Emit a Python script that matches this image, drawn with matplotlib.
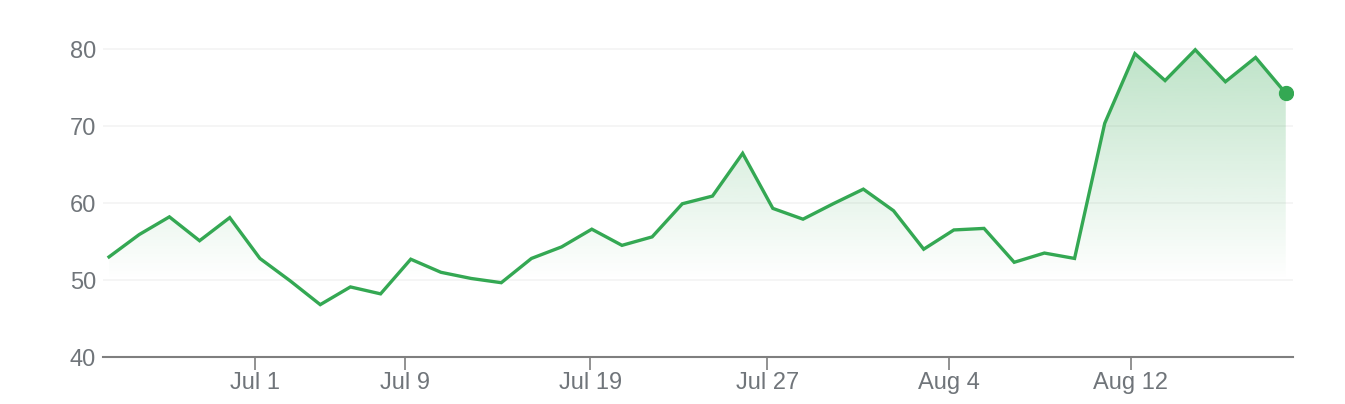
import numpy as np
import matplotlib
matplotlib.use("Agg")
import matplotlib.pyplot as plt
from matplotlib.patches import Polygon

values = [53.0, 55.9, 58.2, 55.1, 58.1, 52.8, 49.9, 46.8, 49.1, 48.2,
          52.7, 51.0, 50.2, 49.65, 52.8, 54.3, 56.6, 54.5, 55.6, 59.9,
          60.9, 66.45, 59.3, 57.9, 59.9, 61.8, 59.0, 54.0, 56.5, 56.7,
          52.3, 53.5, 52.8, 70.35, 79.4, 75.9, 79.9, 75.75, 78.9, 74.25]
tick_labels = ["Jul 1", "Jul 9", "Jul 19", "Jul 27", "Aug 4", "Aug 12"]
tick_pos = [4.84, 9.82, 15.95, 21.82, 27.83, 33.86]
y_ticks = [40, 50, 60, 70, 80]

plt.rcParams['font.family'] = ['Liberation Sans', 'DejaVu Sans']
W, H = 1345, 404
fig = plt.figure(figsize=(W / 100, H / 100), dpi=100)
left, right = 103, 1293
bottom_px, top_px = 357, 18.2
ax = fig.add_axes([left / W, (H - bottom_px) / H, (right - left) / W, (bottom_px - top_px) / H])

green = "#34a853"
gray = "#70757a"
x = np.arange(len(values))

# grid
for yv in y_ticks[1:]:
    ax.axhline(yv, color="#f4f4f4", lw=1.2, zorder=0)

# gradient fill
grad = np.linspace(0, 1, 256).reshape(-1, 1)
ymin_g, ymax_g = 50, 80
rgba = np.zeros((256, 1, 4))
rgba[..., 0] = 0x34 / 255
rgba[..., 1] = 0xa8 / 255
rgba[..., 2] = 0x53 / 255
rgba[..., 3] = 0.32 * grad
im = ax.imshow(rgba, extent=[x[0], x[-1], ymin_g, ymax_g], origin="lower",
               aspect="auto", zorder=1, interpolation="bilinear")
verts = [(x[0], 40)] + list(zip(x, values)) + [(x[-1], 40)]
poly = Polygon(verts, closed=True, facecolor="none", edgecolor="none")
ax.add_patch(poly)
im.set_clip_path(poly)

ax.plot(x, values, color=green, lw=2.4, zorder=3, solid_joinstyle="miter")
ax.plot([x[-1]], [values[-1]], "o", color=green, ms=10, zorder=4)

ax.set_xlim(-0.2, 39.24)
ax.set_ylim(40, 84)

for s in ["top", "right", "left"]:
    ax.spines[s].set_visible(False)
ax.spines["bottom"].set_color("#7f7f7f")
ax.spines["bottom"].set_linewidth(1.5)

ax.set_yticks(y_ticks)
ax.set_yticklabels([str(v) for v in y_ticks])
ax.tick_params(axis="y", length=0, pad=5, labelsize=17, labelcolor=gray)
ax.set_xticks(tick_pos)
ax.set_xticklabels(tick_labels)
ax.tick_params(axis="x", length=9.5, width=1.2, color="#7f7f7f", pad=1,
               labelsize=17, labelcolor=gray)

fig.savefig("out.png", dpi=100, facecolor="white")
